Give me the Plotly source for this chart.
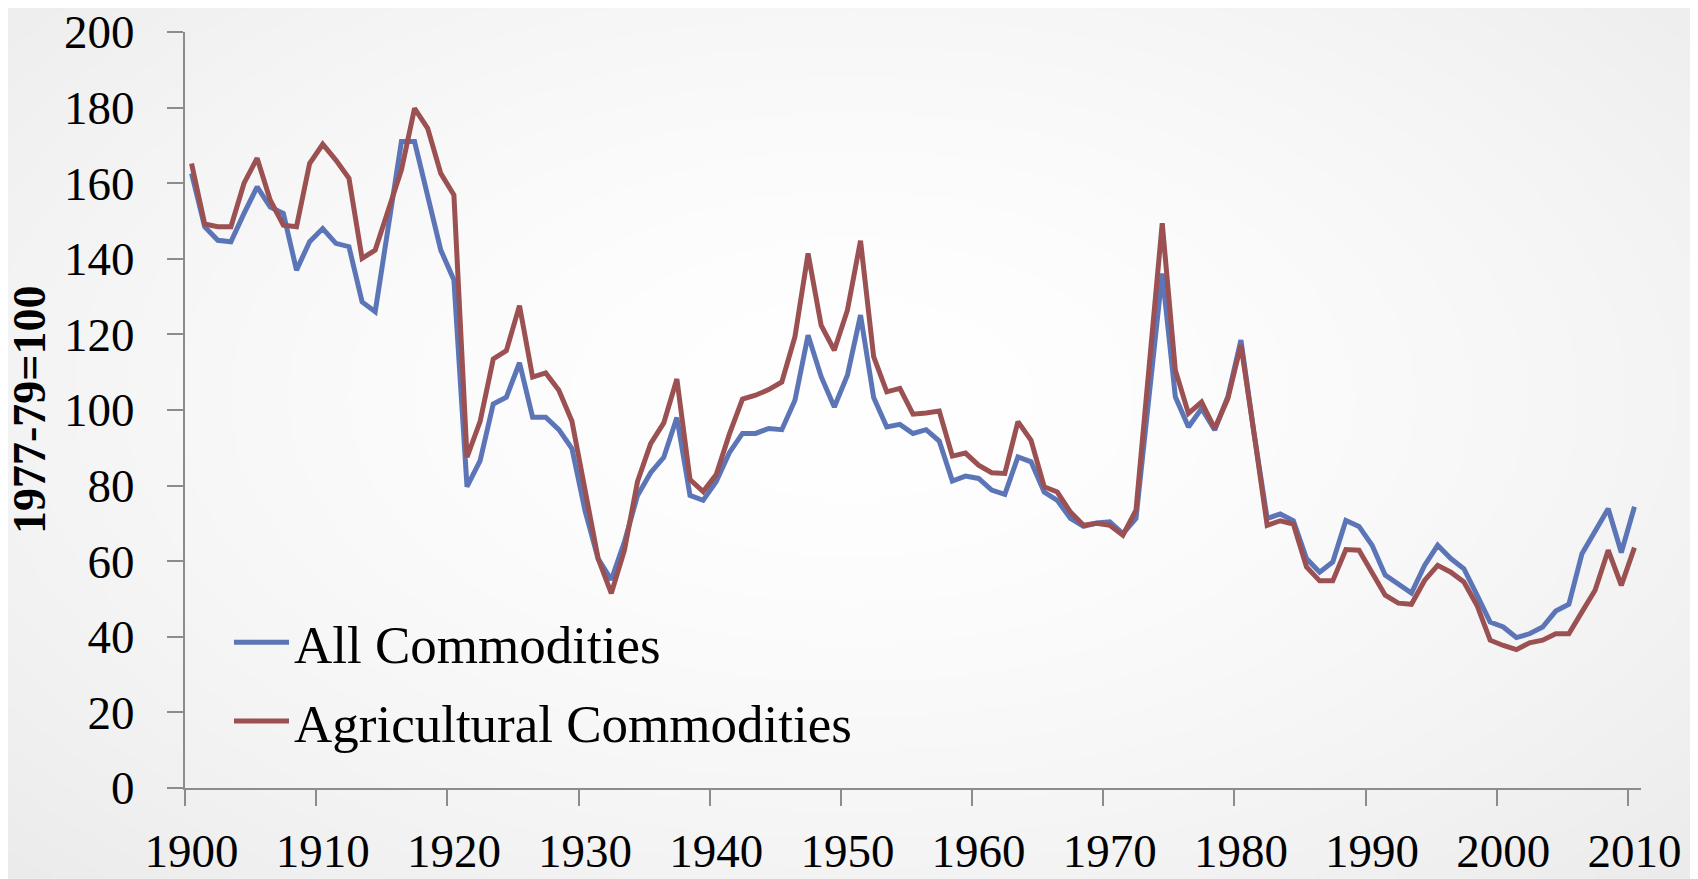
import base64
import struct
import zlib

import numpy as np
import plotly.graph_objects as go

# ---------------- data ----------------
years = list(range(1900, 2011))

all_commodities = [
    162.6, 148.5, 144.9, 144.5, 152.0, 159.0, 153.7, 152.0, 137.0, 144.5,
    148.0, 144.1, 143.2, 128.6, 126.0, 148.2, 171.0, 171.0, 156.4, 142.3,
    134.4, 79.7, 86.6, 101.6, 103.4, 112.5, 98.1, 98.1, 94.8, 89.8,
    73.3, 60.6, 55.1, 65.1, 77.4, 83.4, 87.5, 98.0, 77.4, 76.1,
    81.1, 88.7, 93.8, 93.8, 95.1, 94.8, 102.6, 119.8, 108.8, 100.8,
    109.2, 125.1, 103.3, 95.5, 96.2, 93.8, 94.8, 91.8, 81.2, 82.5,
    81.9, 78.8, 77.7, 87.6, 86.3, 78.3, 76.1, 71.3, 69.2, 70.1,
    70.4, 67.3, 71.3, 102.9, 136.1, 103.5, 95.5, 100.4, 94.7, 103.5,
    118.5, 93.8, 71.3, 72.5, 70.7, 60.7, 57.1, 59.8, 70.8, 69.2,
    64.2, 56.3, 54.1, 51.6, 58.9, 64.2, 60.7, 58.0, 51.0, 43.9,
    42.6, 39.8, 40.8, 42.6, 46.8, 48.6, 62.0, 67.9, 73.9, 62.3,
    74.4,
]

agricultural = [
    165.2, 149.2, 148.5, 148.5, 160.0, 166.6, 155.5, 148.9, 148.5, 165.2,
    170.3, 166.1, 161.3, 140.1, 142.3, 152.4, 163.5, 179.8, 174.5, 162.6,
    156.9, 87.5, 97.0, 113.5, 115.7, 127.6, 108.7, 109.8, 105.2, 97.0,
    78.8, 60.6, 51.5, 62.9, 81.1, 91.1, 96.6, 108.2, 81.6, 78.4,
    82.9, 93.6, 102.9, 103.9, 105.4, 107.4, 119.4, 141.4, 122.4, 115.8,
    126.4, 144.8, 114.1, 104.8, 105.7, 98.9, 99.2, 99.7, 87.8, 88.6,
    85.4, 83.4, 83.2, 96.9, 92.0, 79.7, 78.3, 73.0, 69.5, 70.0,
    69.5, 66.9, 73.5, 110.4, 149.4, 110.5, 99.1, 102.1, 95.1, 103.0,
    117.2, 93.8, 69.5, 70.7, 69.8, 58.5, 54.8, 54.8, 63.1, 62.9,
    56.9, 51.0, 48.9, 48.6, 54.9, 58.9, 57.1, 54.5, 48.3, 39.1,
    37.7, 36.6, 38.4, 39.1, 40.8, 40.8, 46.6, 52.3, 62.9, 53.6,
    63.6,
]

series_names = ["All Commodities", "Agricultural Commodities"]
x_tick_years = list(range(1900, 2011, 10))
x_tick_labels = [str(y) for y in x_tick_years]
y_tick_vals = list(range(0, 201, 20))
y_title = "1977-79=100"

# ---------------- style ----------------
# the page body adds an 8px offset; margins compensate so that the plot
# area lands where it is in the reference
W, H = 1698, 879
OFF = 8
ML, MR, MT, MB = 185 - OFF, 57 + OFF, 32 - OFF, 91 + OFF
BLUE = "#5B75B7"
RED = "#9B5052"
AXIS = "#8C8C8C"
SERIF = "Liberation Serif, Times New Roman, serif"


def radial_png(w, h):
    yy, xx = np.mgrid[0:h, 0:w]
    cx, cy = w * 0.50, h * 0.45
    r = np.sqrt(((xx - cx) / (w * 0.5)) ** 2 + ((yy - cy) / (h * 0.55)) ** 2) / np.sqrt(2)
    v = 255 - 20 * np.clip(r, 0, 1.2) ** 1.6
    v = np.clip(v, 0, 255).astype(np.uint8)
    rgb = np.stack([v, v, v], axis=-1)
    raw = b"".join(b"\x00" + rgb[i].tobytes() for i in range(h))

    def chunk(tag, data):
        c = struct.pack(">I", len(data)) + tag + data
        return c + struct.pack(">I", zlib.crc32(tag + data) & 0xFFFFFFFF)

    png = b"\x89PNG\r\n\x1a\n"
    png += chunk(b"IHDR", struct.pack(">IIBBBBB", w, h, 8, 2, 0, 0, 0))
    png += chunk(b"IDAT", zlib.compress(raw, 9))
    png += chunk(b"IEND", b"")
    return "data:image/png;base64," + base64.b64encode(png).decode()


fig = go.Figure()
fig.add_trace(go.Scatter(
    x=years, y=all_commodities, name=series_names[0], mode="lines",
    line=dict(color=BLUE, width=5), legendgroup="a",
))
fig.add_trace(go.Scatter(
    x=years, y=agricultural, name=series_names[1], mode="lines",
    line=dict(color=RED, width=5), legendgroup="b",
))

pw = W - ML - MR
ph = H - MT - MB

fig.update_layout(
    width=W, height=H,
    margin=dict(l=ML, r=MR, t=MT, b=MB, pad=0, autoexpand=False),
    paper_bgcolor="white",
    plot_bgcolor="rgba(0,0,0,0)",
    font=dict(family=SERIF, size=47, color="black"),
    showlegend=True,
    legend=dict(
        x=(229 - ML - OFF) / pw, y=0.247, xanchor="left", yanchor="top",
        bgcolor="rgba(0,0,0,0)",
        font=dict(family=SERIF, size=53, color="black"),
        tracegroupgap=7,
        itemwidth=55,
    ),
    images=[dict(
        source=radial_png(340, 176), xref="paper", yref="paper",
        x=-(ML + OFF) / pw, y=1 + (MT + OFF) / ph, sizex=W / pw, sizey=H / ph,
        xanchor="left", yanchor="top", sizing="stretch", layer="below",
    )],
    xaxis=dict(
        range=[years[0] - 0.5, years[-1] + 0.5], automargin=False,
        tickmode="array", tickvals=x_tick_years, ticktext=x_tick_labels,
        ticks="", showgrid=False, zeroline=False,
        showline=True, linecolor=AXIS, linewidth=2,
        tickfont=dict(family=SERIF, size=47),
        ticklabelstandoff=21, ticklabeloverflow="allow",
        minor=dict(
            tickmode="array", tickvals=[y - 0.5 for y in x_tick_years],
            ticks="outside", ticklen=16, tickwidth=1.5, tickcolor=AXIS,
            showgrid=False,
        ),
    ),
    yaxis=dict(
        range=[0, 200], automargin=False, tickmode="array", tickvals=y_tick_vals,
        ticks="outside", ticklen=16, tickwidth=1.5, tickcolor=AXIS,
        showgrid=False, zeroline=False,
        showline=True, linecolor=AXIS, linewidth=2,
        tickfont=dict(family=SERIF, size=47),
        ticklabelstandoff=23, ticklabeloverflow="allow",
    ),
    annotations=[dict(
        text=y_title, xref="paper", yref="paper",
        x=(29 - ML - OFF) / pw, y=0.5, xanchor="center", yanchor="middle",
        textangle=-90, showarrow=False,
        font=dict(family=SERIF, size=46, color="black", weight="bold"),
    )],
)

fig.write_html("out.html")
